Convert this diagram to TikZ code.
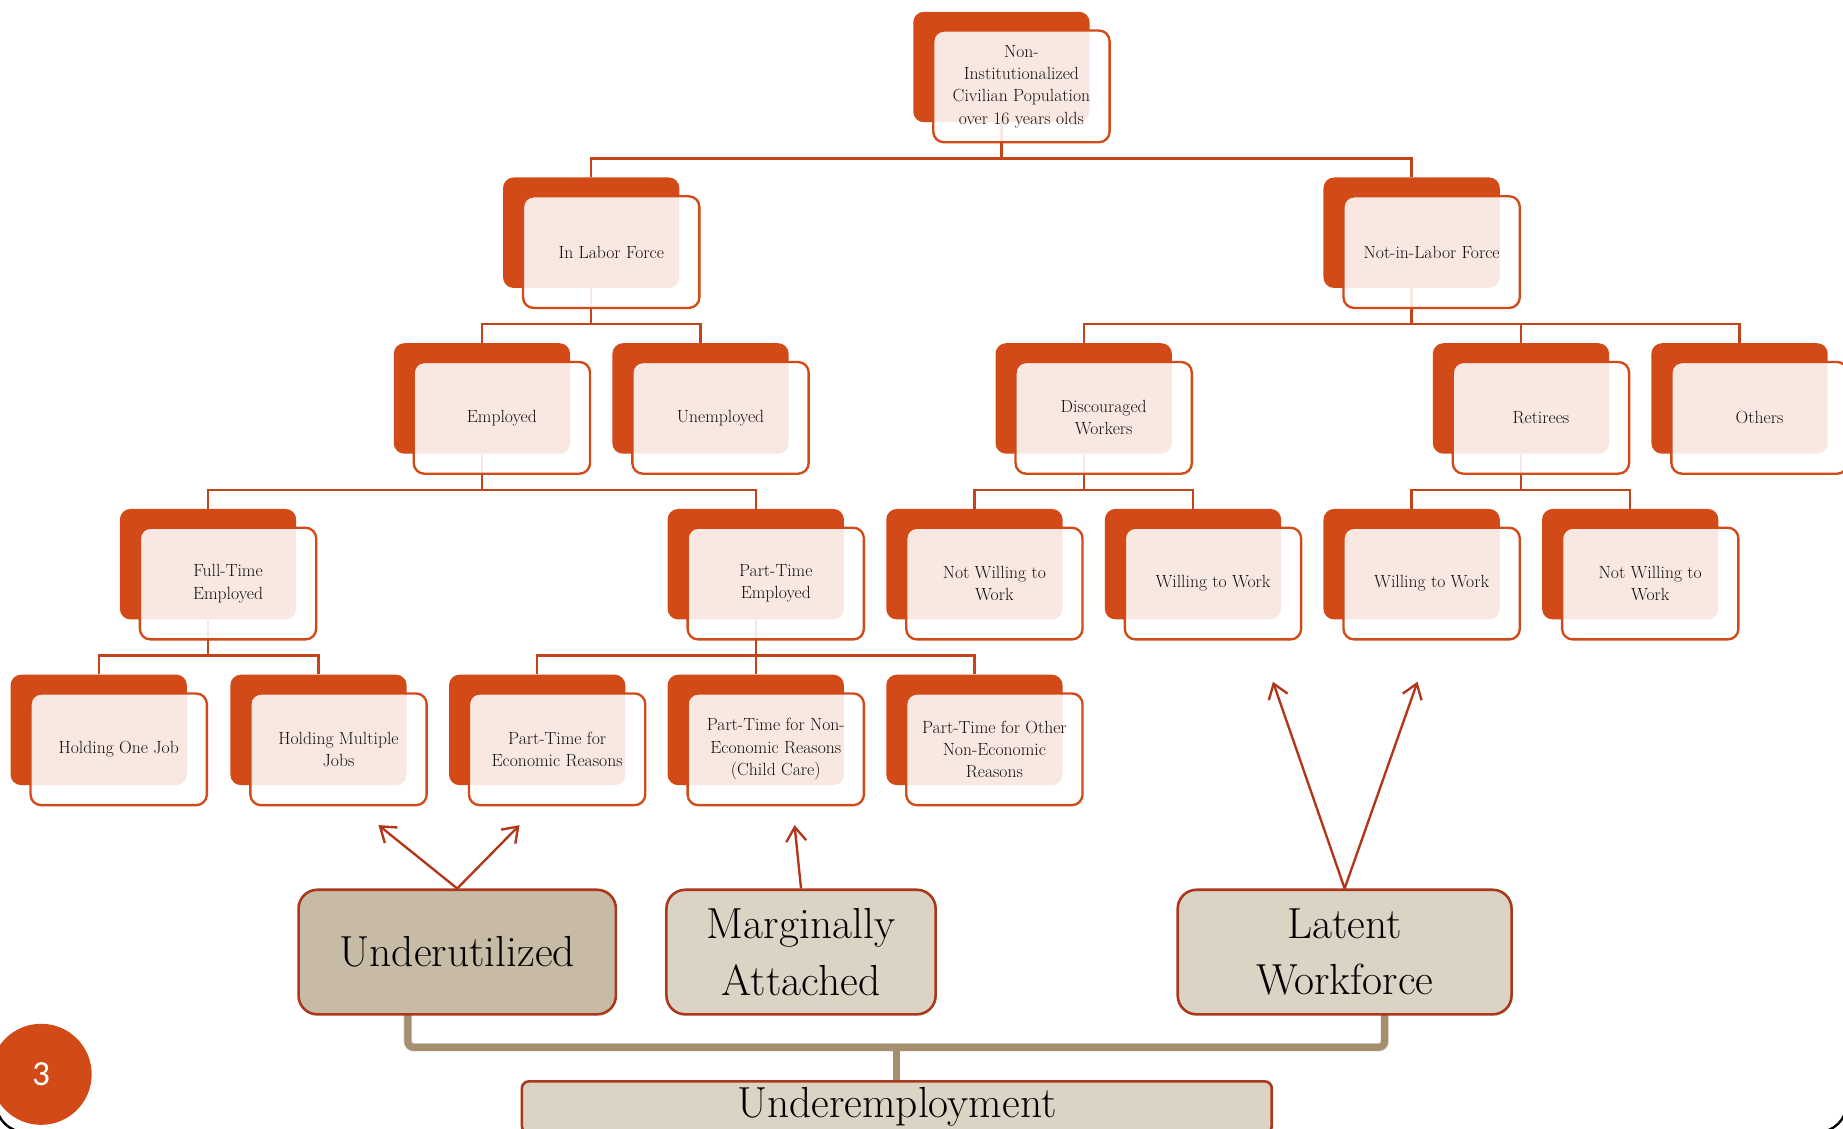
\documentclass[tikz,border=0pt]{standalone}
\usepackage{fontspec}
\newfontfamily\numfont{Carlito}
\usetikzlibrary{arrows.meta,calc}
\definecolor{orng}{HTML}{D24A18}
\definecolor{lnc}{HTML}{C4441A}
\definecolor{arrc}{HTML}{B0361A}
\definecolor{bbord}{HTML}{A9381C}
\definecolor{tanA}{HTML}{C7BBA5}
\definecolor{tanB}{HTML}{DBD3C3}
\definecolor{brc}{HTML}{A58F6D}
\definecolor{textc}{HTML}{111111}
\pgfdeclarelayer{background}
\pgfsetlayers{background,main}
\newcommand\dk[3]{\node[darkbox] (#1D) at (#2,#3) {};}
\newcommand\fr[2]{\node[frontbox] (#1) at ([shift={(17pt,-16.5pt)}]#1D.center) {#2};}
\newcommand\link[2]{\draw[conn] (#1D.south) |- ([yshift=16pt]#2D.north) -- (#2D.north);}
\begin{document}
\begin{tikzpicture}[x=1pt,y=-1pt,
  darkbox/.style={fill=orng, draw=none, rounded corners=9pt, minimum width=150pt, minimum height=94pt, inner sep=0pt},
  frontbox/.style={fill=white, fill opacity=0.88, text opacity=1, draw=orng, line width=2pt, rounded corners=9pt, minimum width=150pt, minimum height=95pt, inner sep=0pt, align=center, font=\fontsize{15}{19}\selectfont, text=textc},
  conn/.style={draw=lnc, line width=2pt},
  bottombox/.style={draw=bbord, line width=2.2pt, rounded corners=16pt, align=center, font=\fontsize{37}{48}\selectfont, inner sep=0pt, text=black},
  arr/.style={draw=arrc, line width=2pt, -{Straight Barb[length=12pt,width=17pt]}},
  brace/.style={draw=brc, line width=6pt, rounded corners=5pt},
  braceshadow/.style={draw=black, opacity=0.2, line width=7pt, rounded corners=5pt}
]
\useasboundingbox (0,0) rectangle (1568,960);
\clip (0,0) rectangle (1568,960);
\begin{pgfonlayer}{background}
\fill[white] (0,0) rectangle (1568,960);
\end{pgfonlayer}

% dark back boxes
\dk{top}{852}{57}
\dk{inlf}{503}{198}
\dk{notlf}{1201}{198}
\dk{emp}{410}{339}
\dk{unemp}{596}{339}
\dk{disc}{922}{339}
\dk{ret}{1294}{339}
\dk{oth}{1480}{339}
\dk{ft}{177}{480}
\dk{pt}{643}{480}
\dk{nwa}{829}{480}
\dk{wa}{1015}{480}
\dk{wb}{1201}{480}
\dk{nwb}{1387}{480}
\dk{hone}{84}{621}
\dk{hmul}{271}{621}
\dk{pte}{457}{621}
\dk{ptn}{643}{621}
\dk{pto}{829}{621}

% connectors
\link{top}{inlf}
\link{top}{notlf}
\link{inlf}{emp}
\link{inlf}{unemp}
\link{notlf}{disc}
\link{notlf}{ret}
\link{notlf}{oth}
\link{emp}{ft}
\link{emp}{pt}
\link{disc}{nwa}
\link{disc}{wa}
\link{ret}{wb}
\link{ret}{nwb}
\link{ft}{hone}
\link{ft}{hmul}
\link{pt}{pte}
\link{pt}{ptn}
\link{pt}{pto}

% front boxes
\fr{top}{Non-\\Institutionalized\\Civilian Population\\over 16 years olds}
\fr{inlf}{In Labor Force}
\fr{notlf}{Not-in-Labor Force}
\fr{emp}{Employed}
\fr{unemp}{Unemployed}
\fr{disc}{Discouraged\\Workers}
\fr{ret}{Retirees}
\fr{oth}{Others}
\fr{ft}{Full-Time\\Employed}
\fr{pt}{Part-Time\\Employed}
\fr{nwa}{Not Willing to\\Work}
\fr{wa}{Willing to Work}
\fr{wb}{Willing to Work}
\fr{nwb}{Not Willing to\\Work}
\fr{hone}{Holding One Job}
\fr{hmul}{Holding Multiple\\Jobs}
\fr{pte}{Part-Time for\\Economic Reasons}
\fr{ptn}{Part-Time for Non-\\Economic Reasons\\(Child Care)}
\fr{pto}{Part-Time for Other\\Non-Economic\\Reasons}

% bottom category boxes
\node[bottombox, fill=tanA, minimum width=270pt, minimum height=106pt] (under) at (389,810) {Underutilized};
\node[bottombox, fill=tanB, minimum width=229pt, minimum height=106pt] (marg) at (681.5,810) {Marginally\\Attached};
\node[bottombox, fill=tanB, minimum width=284pt, minimum height=106pt] (latent) at (1144,810) {Latent\\Workforce};
\node[bottombox, fill=tanB, rounded corners=6pt, minimum width=638pt, minimum height=44pt] (uemp) at (763,942) {Underemployment};

% arrows
\coordinate (a1) at (322,702);
\coordinate (a2) at (442,702);
\coordinate (a3) at (676,702);
\coordinate (a4) at (1083,580);
\coordinate (a5) at (1206,580);
\draw[arr] (under.north) -- (a1);
\draw[arr] (under.north) -- (a2);
\draw[arr] (marg.north) -- (a3);
\draw[arr] (latent.north) -- (a4);
\draw[arr] (latent.north) -- (a5);

% bracket
\coordinate (bl) at (347,862);
\coordinate (br) at (1178,862);
\coordinate (bm) at (763,891);
\begin{pgfonlayer}{background}
\begin{scope}[xshift=2pt,yshift=-5pt]
\draw[braceshadow] (bl) |- (bm) -| (br);
\end{scope}
\draw[brace] (bl) |- (bm) -| (br);
\draw[brace] (bm) -- (uemp.north);
\end{pgfonlayer}

% page number
\node[circle, fill=orng, minimum size=86pt, inner sep=0pt, text=white, font=\numfont\fontsize{30}{30}\selectfont] (num) at (35,914) {3};

% slide frame corners
\draw[black, line width=2pt, rounded corners=24pt] (-3,-60) rectangle (1571,963);
\end{tikzpicture}
\end{document}
